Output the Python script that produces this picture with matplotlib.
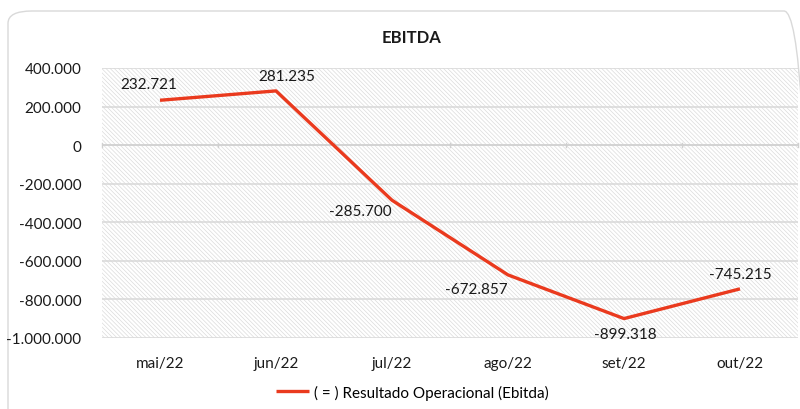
import matplotlib
matplotlib.use("Agg")
import matplotlib.pyplot as plt
from matplotlib.patches import FancyBboxPatch, Rectangle
from matplotlib.ticker import FuncFormatter, MultipleLocator

months = ["mai/22", "jun/22", "jul/22", "ago/22", "set/22", "out/22"]
ebitda = [232721, 281235, -285700, -672857, -899318, -745215]
series_name = "( = ) Resultado Operacional (Ebitda)"
title = "EBITDA"

plt.rcParams['font.family'] = ['Lato', 'DejaVu Sans']
plt.rcParams['hatch.linewidth'] = 0.5
plt.rcParams['hatch.color'] = '#dcdcdc'

W, H = 800, 410
fig = plt.figure(figsize=(8, 4.1), dpi=100)
fig.patch.set_facecolor('white')

# chart border
border = FancyBboxPatch((8 / W, -0.05), 1.0, (H - 12) / H + 0.05,
                        boxstyle="round,pad=0,rounding_size=0.03",
                        transform=fig.transFigure, facecolor='none',
                        edgecolor='#d9d9d9', linewidth=1.0, zorder=-1)
fig.patches.append(border)

left, right, top, bottom = 102, 798, 69, 339
ax = fig.add_axes([left / W, 1 - bottom / H, (right - left) / W, (bottom - top) / H])
ax.set_facecolor('none')
ax.add_patch(Rectangle((0, 0), 1, 1, transform=ax.transAxes, facecolor='white',
                       hatch='\\' * 8, edgecolor='#dcdcdc', linewidth=0, zorder=0))

x = list(range(len(months)))
ax.set_xlim(-0.5, len(months) - 0.5)
ax.set_ylim(-1000000, 400000)
ax.yaxis.set_major_locator(MultipleLocator(200000))

def fmt(v, pos=None):
    v = int(round(v))
    s = f"{abs(v):,}".replace(",", ".")
    return ("-" if v < 0 else "") + s

ax.yaxis.set_major_formatter(FuncFormatter(fmt))
for yv in range(-1000000, 400001, 200000):
    if yv != 0:
        ax.axhline(yv, color='#dadada', linewidth=1.2, zorder=1)
ax.axhline(0, color='#d0d0d0', linewidth=1.3, zorder=1)
for b in [i - 0.5 for i in range(len(months) + 1)]:
    ax.plot([b, b], [-12000, 12000], color='#d0d0d0', linewidth=1.0, zorder=1, clip_on=False)

line, = ax.plot(x, ebitda, color='#EA3A1E', linewidth=2.4, zorder=3, solid_capstyle='butt')

offsets = [(-11, 16), (11, 15), (-32, -11), (-32, -14), (1, -15), (0, 15)]
for xi, yi, (dx, dy) in zip(x, ebitda, offsets):
    ax.annotate(fmt(yi), (xi, yi), xytext=(dx, dy), textcoords='offset pixels',
                ha='center', va='center', fontsize=11, color='#1a1a1a', zorder=4)

ax.set_xticks(x)
ax.set_xticklabels(months)
ax.tick_params(axis='both', length=0, labelsize=11, colors='#1a1a1a')
ax.tick_params(axis='x', pad=13)
ax.tick_params(axis='y', pad=15)
for s in ax.spines.values():
    s.set_visible(False)

fig.text(411 / W, 1 - 38 / H, title, ha='center', va='center', fontsize=12,
         fontweight='bold', color='#1a1a1a')

# legend
fig.legend([line], [series_name], loc='center', bbox_to_anchor=(412 / W, 1 - 393 / H),
           frameon=False, fontsize=11, handlelength=2.2, handletextpad=0.3)

fig.savefig('out.png', dpi=100, facecolor='white')
